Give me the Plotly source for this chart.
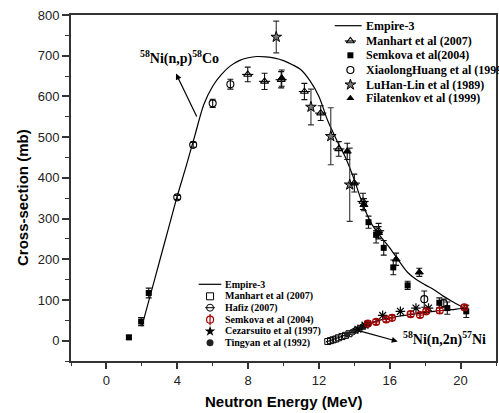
import plotly.graph_objects as go

# ---------------- data ----------------
# Empire-3 58Ni(n,p)58Co
emp_np_x = [2.0, 2.5, 3.0, 3.5, 4.0, 4.5, 5.0, 5.5, 6.0, 6.5, 7.0, 7.5, 8.0, 8.5, 9.0, 9.5, 10.0,
            10.5, 11.0, 11.5, 12.0, 12.5, 13.0, 13.5, 14.0, 14.5, 15.0, 15.5, 16.0, 16.5, 17.0,
            17.5, 18.0, 18.5, 19.0, 19.5, 20.0, 20.3]
emp_np_y = [35, 115, 195, 275, 355, 428, 505, 580, 625, 654, 675, 688, 695, 698, 697, 694, 688,
            678, 665, 638, 600, 540, 493, 450, 395, 332, 285, 255, 228, 197, 168, 150, 137, 125,
            110, 97, 85, 78]

# Empire-3 58Ni(n,2n)57Ni
emp_n2n_x = [12.4, 13.0, 13.5, 14.0, 14.5, 15.0, 15.5, 16.0, 16.5, 17.0, 17.5, 18.0, 18.5, 19.0,
             19.5, 20.0, 20.3]
emp_n2n_y = [-3, 6, 14, 23, 33, 44, 51, 56, 60, 63, 66, 69, 72, 74, 76, 79, 80]

# (n,p) experimental
manhart_np_x = [7.98, 8.93, 9.87, 11.18, 12.1, 13.12, 14.0, 14.49, 15.37]
manhart_np_y = [654, 637, 641, 612, 559, 471, 387, 342, 270]
manhart_np_e = [18, 20, 20, 20, 18, 18, 22, 20, 18]

semkova_np_x = [1.27, 1.96, 2.39, 14.8, 15.23, 15.66, 16.2, 17.01, 18.8, 19.25, 20.32]
semkova_np_y = [8, 47, 117, 291, 260, 228, 180, 136, 93, 80, 72]
semkova_np_e = [5, 10, 12, 15, 20, 18, 18, 10, 12, 15, 15]

huang_x = [4.0, 4.9, 6.0, 7.0, 17.95, 19.05]
huang_y = [352, 481, 583, 630, 102, 92]
huang_e = [5, 6, 10, 12, 20, 10]

luhan_x = [9.59, 11.55, 12.67, 13.74]
luhan_y = [746, 574, 502, 383]
luhan_e = [39, 44, 70, 90]

filat_x = [9.9, 13.6, 14.54, 15.37, 16.36, 17.67]
filat_y = [645, 465, 334, 265, 200, 168]
filat_e = [20, 20, 15, 15, 15, 10]

# (n,2n) experimental
manhart_n2n_x = [12.5, 12.65, 12.8, 12.95, 13.1, 13.3, 13.5, 13.7]
manhart_n2n_y = [-2, 0, 2, 4, 7, 10, 13, 17]

hafiz_x = [13.9, 14.1, 14.3, 14.5, 14.7]
hafiz_y = [21, 26, 30, 35, 39]

semkova_n2n_x = [14.77, 15.23, 15.8, 16.13, 17.18, 17.71, 18.06, 18.82, 20.21]
semkova_n2n_y = [42, 46, 52, 56, 65, 63, 72, 74, 82]
semkova_n2n_e = [6, 6, 6, 6, 6, 6, 6, 6, 6]

cezar_x = [14.2, 14.6, 15.6, 16.6, 17.48, 18.19]
cezar_y = [28, 38, 62, 72, 80, 80]

tingyan_x = [13.6, 14.0, 14.4, 14.8]
tingyan_y = [15, 24, 33, 40]

top_legend = ["Empire-3", "Manhart et al (2007)", "Semkova et al(2004)",
              "XiaolongHuang et al (1999)", "LuHan-Lin et al (1989)", "Filatenkov et al (1999)"]
bot_legend = ["Empire-3", "Manhart et al (2007)", "Hafiz (2007)", "Semkova et al (2004)",
              "Cezarsuito et al (1997)", "Tingyan et al (1992)"]

x_ticks = [0, 4, 8, 12, 16, 20]
y_ticks = [0, 100, 200, 300, 400, 500, 600, 700, 800]

# ---------------- figure ----------------
W, H = 499, 413
ML, MR, MT, MB = 71, 1, 15, 52
PW, PH = W - ML - MR, H - MT - MB

def px(xp):
    return (xp - ML) / PW

def py(yp):
    return (H - MB - yp) / PH

fig = go.Figure()

def eb(e, color="#111"):
    return dict(type="data", array=e, visible=True, color=color, thickness=1.1, width=3)

# curves
fig.add_trace(go.Scatter(x=emp_np_x, y=emp_np_y, mode="lines", line=dict(color="black", width=1.2, shape="spline", smoothing=0.8)))
fig.add_trace(go.Scatter(x=emp_n2n_x, y=emp_n2n_y, mode="lines", line=dict(color="black", width=1.2, shape="spline", smoothing=0.8)))

# (n,p) data
fig.add_trace(go.Scatter(x=luhan_x, y=luhan_y, mode="markers", error_y=eb(luhan_e, "#333"),
                         marker=dict(symbol="star", size=8, color="#777", line=dict(color="black", width=1))))
fig.add_trace(go.Scatter(x=manhart_np_x, y=manhart_np_y, mode="markers", error_y=eb(manhart_np_e),
                         marker=dict(symbol="triangle-up-open", size=7, color="black", line=dict(width=1.1))))
fig.add_trace(go.Scatter(x=manhart_np_x, y=manhart_np_y, mode="markers",
                         marker=dict(symbol="line-ew-open", size=8, color="black", line=dict(width=1.1))))
fig.add_trace(go.Scatter(x=filat_x, y=filat_y, mode="markers", error_y=eb(filat_e),
                         marker=dict(symbol="triangle-up", size=7, color="black", line=dict(width=1, color="black"))))
fig.add_trace(go.Scatter(x=semkova_np_x, y=semkova_np_y, mode="markers", error_y=eb(semkova_np_e),
                         marker=dict(symbol="square", size=6, color="black")))
fig.add_trace(go.Scatter(x=huang_x, y=huang_y, mode="markers", error_y=eb(huang_e),
                         marker=dict(symbol="circle-open", size=7, color="black", line=dict(width=1.1))))

# (n,2n) data
fig.add_trace(go.Scatter(x=manhart_n2n_x, y=manhart_n2n_y, mode="markers",
                         marker=dict(symbol="square-open", size=6, color="black", line=dict(width=1))))
fig.add_trace(go.Scatter(x=hafiz_x, y=hafiz_y, mode="markers",
                         marker=dict(symbol="circle-open", size=6, color="black", line=dict(width=1))))
fig.add_trace(go.Scatter(x=hafiz_x, y=hafiz_y, mode="markers",
                         marker=dict(symbol="line-ew-open", size=6, color="black", line=dict(width=1))))
fig.add_trace(go.Scatter(x=tingyan_x, y=tingyan_y, mode="markers",
                         marker=dict(symbol="circle", size=6, color="#222")))
fig.add_trace(go.Scatter(x=cezar_x, y=cezar_y, mode="markers",
                         marker=dict(symbol="asterisk-open", size=8, color="black", line=dict(width=1.2, color="black"))))
fig.add_trace(go.Scatter(x=semkova_n2n_x, y=semkova_n2n_y, mode="markers", error_y=eb(semkova_n2n_e, "#a00000"),
                         marker=dict(symbol="circle-cross-open", size=7, color="#a00000", line=dict(width=1.2, color="#a00000"))))

# ---------------- manual legends (overlay axes in paper-like units) ----------------
ann = []
shapes = []

# top legend
top_rows = [25.7, 41.0, 55.3, 70.0, 84.7, 98.3]
top_sym_x = 351.7
top_txt_x = 365.7
shapes.append(dict(type="line", xref="paper", yref="paper", x0=px(336), x1=px(363),
                   y0=py(top_rows[0]), y1=py(top_rows[0]), line=dict(color="black", width=1.2)))
top_syms = [
    dict(symbol="triangle-up-open", size=7, color="black", line=dict(width=1.2)),
    dict(symbol="square", size=6, color="black"),
    dict(symbol="circle-open", size=7, color="black", line=dict(width=1.2)),
    dict(symbol="star", size=8, color="#777", line=dict(color="black", width=1)),
    dict(symbol="triangle-up", size=7, color="black"),
]
for i, m in enumerate(top_syms):
    fig.add_trace(go.Scatter(x=[px(top_sym_x)], y=[py(top_rows[i + 1])], xaxis="x2", yaxis="y2",
                             mode="markers", marker=m, cliponaxis=False))
fig.add_trace(go.Scatter(x=[px(top_sym_x)], y=[py(top_rows[1])], xaxis="x2", yaxis="y2",
                         mode="markers", marker=dict(symbol="line-ew-open", size=8, color="black", line=dict(width=1.2)),
                         cliponaxis=False))
for i, t in enumerate(top_legend):
    ann.append(dict(xref="paper", yref="paper", x=px(top_txt_x), y=py(top_rows[i]), text="<b>%s</b>" % t,
                    showarrow=False, xanchor="left", yanchor="middle",
                    font=dict(family="Liberation Serif", size=12, color="black")))

# bottom legend
bot_rows = [284.3, 296.3, 307.7, 319.7, 331.3, 342.7]
bot_sym_x = 210.7
bot_txt_x = 224
shapes.append(dict(type="line", xref="paper", yref="paper", x0=px(199.3), x1=px(222),
                   y0=py(bot_rows[0]), y1=py(bot_rows[0]), line=dict(color="black", width=1.2)))
bot_syms = [
    dict(symbol="square-open", size=7, color="black", line=dict(width=1)),
    dict(symbol="circle-open", size=7, color="black", line=dict(width=1)),
    dict(symbol="circle-open", size=7, color="#a00000", line=dict(width=1.2, color="#a00000")),
    dict(symbol="star", size=8, color="black"),
    dict(symbol="circle", size=7, color="#222"),
]
for i, m in enumerate(bot_syms):
    fig.add_trace(go.Scatter(x=[px(bot_sym_x)], y=[py(bot_rows[i + 1])], xaxis="x2", yaxis="y2",
                             mode="markers", marker=m, cliponaxis=False))
fig.add_trace(go.Scatter(x=[px(bot_sym_x)], y=[py(bot_rows[2])], xaxis="x2", yaxis="y2", mode="markers",
                         marker=dict(symbol="line-ew-open", size=7, color="black", line=dict(width=1)), cliponaxis=False))
fig.add_trace(go.Scatter(x=[px(bot_sym_x)], y=[py(bot_rows[3])], xaxis="x2", yaxis="y2", mode="markers",
                         marker=dict(symbol="line-ns-open", size=8, color="#a00000", line=dict(width=1.2, color="#a00000")),
                         cliponaxis=False))
for i, t in enumerate(bot_legend):
    ann.append(dict(xref="paper", yref="paper", x=px(bot_txt_x), y=py(bot_rows[i]), text="<b>%s</b>" % t,
                    showarrow=False, xanchor="left", yanchor="middle",
                    font=dict(family="Liberation Serif", size=10, color="black")))

# reaction labels with arrows
ann.append(dict(x=4.11, y=695, xref="x", yref="y", text="<b><sup>58</sup>Ni(n,p)<sup>58</sup>Co</b>",
                showarrow=False, xanchor="center", yanchor="middle",
                font=dict(family="Liberation Serif", size=14, color="black")))
ann.append(dict(x=3.93, y=656, xref="x", yref="y", ax=5.14, ay=547, axref="x", ayref="y", text="",
                showarrow=True, arrowhead=2, arrowsize=1, arrowwidth=1.2, arrowcolor="black"))
ann.append(dict(x=19.07, y=5, xref="x", yref="y", text="<b><sup>58</sup>Ni(n,2n)<sup>57</sup>Ni</b>",
                showarrow=False, xanchor="center", yanchor="middle",
                font=dict(family="Liberation Serif", size=14, color="black")))
ann.append(dict(x=16.45, y=-2, xref="x", yref="y", ax=14.2, ay=25, axref="x", ayref="y", text="",
                showarrow=True, arrowhead=2, arrowsize=1, arrowwidth=1.2, arrowcolor="black"))

# axis titles
ann.append(dict(xref="paper", yref="paper", x=0.5, y=0, yshift=-40, text="<b>Neutron Energy (MeV)</b>",
                showarrow=False, xanchor="center", yanchor="middle",
                font=dict(family="Liberation Sans", size=15, color="black")))
ann.append(dict(xref="paper", yref="paper", x=0, y=py(197.5), xshift=-48.5, text="<b>Cross-section (mb)</b>",
                showarrow=False, xanchor="center", yanchor="middle", textangle=-90,
                font=dict(family="Liberation Sans", size=15, color="black")))

axcol = "#333"
fig.update_layout(
    width=W, height=H,
    margin=dict(l=ML, r=MR, t=MT, b=MB, pad=0),
    paper_bgcolor="white", plot_bgcolor="white",
    showlegend=False,
    hovermode=False,
    font=dict(family="Liberation Sans", size=13, color="#222"),
    xaxis=dict(range=[-2, 22], tickvals=x_ticks, ticks="outside", ticklen=6, tickwidth=1.5, tickcolor=axcol,
               showline=True, linewidth=2, linecolor=axcol, mirror=True, showgrid=False, zeroline=False,
               minor=dict(dtick=2, tick0=0, ticks="outside", ticklen=3, tickwidth=1.2, tickcolor=axcol),
               tickfont=dict(family="Liberation Sans", size=13, color="#222")),
    yaxis=dict(range=[-50, 800], tickvals=y_ticks, ticks="outside", ticklen=7, tickwidth=1.5, tickcolor=axcol,
               showline=True, linewidth=2, linecolor=axcol, mirror=True, showgrid=False, zeroline=False,
               minor=dict(dtick=50, tick0=0, ticks="outside", ticklen=4, tickwidth=1.2, tickcolor=axcol),
               tickfont=dict(family="Liberation Sans", size=13, color="#222")),
    xaxis2=dict(range=[0, 1], overlaying="x", visible=False, fixedrange=True),
    yaxis2=dict(range=[0, 1], overlaying="y", visible=False, fixedrange=True),
    annotations=ann,
    shapes=shapes,
)

fig.write_html("out.html", config={"displayModeBar": False},
               post_script="document.body.style.margin='0';document.body.style.overflow='hidden';")
